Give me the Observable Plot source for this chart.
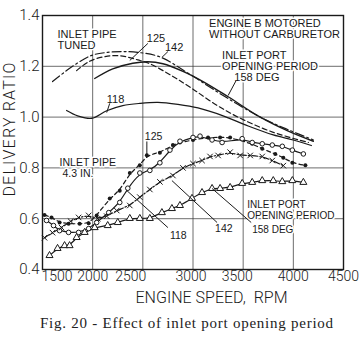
<!DOCTYPE html>
<html><head><meta charset="utf-8">
<script src="https://cdn.jsdelivr.net/npm/d3@7"></script>
<script src="https://cdn.jsdelivr.net/npm/@observablehq/plot@0.6"></script>
<style>
body{margin:0;background:#fff;}
#chart{position:relative;width:364px;height:340px;background:#fff;}
#cap{position:absolute;left:40px;top:315px;font-family:"Liberation Serif","DejaVu Serif",serif;font-size:15px;color:#222;white-space:nowrap;letter-spacing:0.75px;}
#ylab{position:absolute;left:10px;top:129px;transform:translate(-50%,-50%) rotate(-90deg);font-family:Roboto,"Liberation Sans",sans-serif;font-weight:300;font-size:16px;letter-spacing:1.2px;color:#1a1a1a;white-space:nowrap;line-height:1;}
</style></head><body>
<div id="chart"></div>
<script>
// ---- data ----
const xTicks = [1500, 2000, 2500, 3000, 3500, 4000, 4500];
const yTicks = [0.4, 0.6, 0.8, 1.0, 1.2, 1.4];
const xLabel = "ENGINE SPEED,  RPM";
const yLabel = "DELIVERY RATIO";
const caption = "Fig. 20 - Effect of inlet port opening period";

// Tuned inlet pipe (upper curves), [rpm, delivery ratio]
const tuned118 = [[1740,1.026],[1850,1.005],[1990,0.995],[2140,1.025],[2300,1.045],[2470,1.054],[2650,1.058],[2850,1.05],[3050,1.036],[3300,1.005],[3550,0.965],[3800,0.93],[4000,0.91],[4180,0.888]];
const tuned125 = [[1840,1.183],[1970,1.22],[2150,1.24],[2300,1.24],[2450,1.225],[2570,1.21],[2800,1.16],[3000,1.11],[3240,1.046],[3500,0.99],[3800,0.94],[4150,0.9]];
const tuned142 = [[1600,1.14],[1800,1.2],[1990,1.243],[2150,1.255],[2300,1.258],[2450,1.255],[2670,1.237],[2970,1.168],[3300,1.085],[3670,1.0],[3950,0.95],[4200,0.91]];
const tuned158 = [[2020,1.152],[2200,1.19],[2400,1.212],[2550,1.218],[2700,1.21],[2900,1.18],[3100,1.14],[3350,1.08],[3670,1.0],[3950,0.945],[4200,0.905]];

// Inlet pipe 4.3 in. (lower curves with markers)
const pipe125 = [[1520,0.615],[1590,0.605],[1670,0.585],[1760,0.58],[1870,0.58],[1960,0.582],[2040,0.613],[2170,0.68],[2270,0.71],[2370,0.78],[2470,0.81],[2540,0.85],[2670,0.86],[2800,0.89],[2870,0.9],[3000,0.91],[3150,0.92],[3270,0.92],[3370,0.92],[3590,0.895],[3690,0.875],[3820,0.855],[3900,0.84],[3990,0.82],[4120,0.81]];
const pipe118 = [[1540,0.593],[1610,0.573],[1670,0.553],[1760,0.546],[1860,0.546],[1960,0.561],[2040,0.585],[2160,0.624],[2270,0.664],[2350,0.72],[2470,0.78],[2570,0.79],[2670,0.82],[2770,0.87],[2870,0.905],[3000,0.92],[3070,0.925],[3190,0.91],[3290,0.9],[3490,0.915],[3590,0.9],[3690,0.895],[3790,0.89],[3890,0.885],[3990,0.87],[4100,0.855]];
const pipe142 = [[1520,0.525],[1600,0.545],[1690,0.565],[1780,0.59],[1860,0.605],[1960,0.613],[2050,0.6],[2140,0.61],[2240,0.632],[2370,0.652],[2470,0.685],[2570,0.715],[2670,0.745],[2800,0.77],[2900,0.8],[3000,0.817],[3090,0.829],[3170,0.845],[3250,0.849],[3370,0.862],[3470,0.849],[3570,0.849],[3690,0.845],[3790,0.829],[3900,0.809]];
const pipe158 = [[1570,0.455],[1650,0.483],[1720,0.494],[1770,0.494],[1840,0.526],[1920,0.546],[2020,0.565],[2150,0.573],[2250,0.585],[2370,0.601],[2470,0.601],[2570,0.601],[2690,0.624],[2790,0.64],[2870,0.652],[2990,0.68],[3090,0.703],[3190,0.719],[3270,0.719],[3370,0.723],[3490,0.739],[3590,0.743],[3690,0.75],[3800,0.75],[3890,0.746],[3990,0.75],[4100,0.743]];

// Annotation texts (left-anchored, vertically centred, data coordinates)
const notesUpper = [
  ["INLET PIPE\nTUNED", 1650, 1.305],
  ["125", 2540, 1.311], ["142", 2720, 1.274], ["118", 2140, 1.069],
  ["ENGINE B MOTORED\nWITHOUT CARBURETOR", 3160, 1.347],
  ["INLET PORT\nOPENING PERIOD\n\u00a0\u00a0\u00a0\u00a0158 DEG", 3290, 1.199]
];
const notesLower = [
  ["125", 2520, 0.924], ["INLET PIPE\n\u00a04.3 IN.", 1670, 0.799],
  ["118", 2770, 0.534], ["142", 3220, 0.561]
];
const notesLowerPort = [
  ["INLET PORT\nOPENING PERIOD", 3540, 0.634], ["158 DEG", 3590, 0.557]
];
// Leader lines [x1, y1, x2, y2]
const leaders = [
  [2550,1.29,2370,1.223], [2750,1.258,2690,1.235], [2170,1.054,2140,1.018], [3430,1.144,3350,1.085],
  [2540,0.904,2540,0.849], [2750,0.565,2340,0.711], [3240,0.585,2790,0.75], [3580,0.585,3190,0.719]
];

// ---- chart ----
const ink = "#1a1a1a";
const sans = "'Liberation Sans', Arial, sans-serif";
const thin = "Roboto, 'Liberation Sans', sans-serif";
const X = d => d[0], Y = d => d[1];
const lineOpts = (extra) => Object.assign({x: X, y: Y, stroke: ink, strokeWidth: 1.2}, extra);
const noteMark = (arr, size, lh, ls) => Plot.text(arr, {x: d => d[1], y: d => d[2], text: d => d[0], textAnchor: "start", lineAnchor: "middle", lineHeight: lh, fontSize: size, fontFamily: sans, letterSpacing: ls, fill: ink, stroke: "white", strokeWidth: 3, paintOrder: "stroke"});
const xAxisOpts = (extra) => Object.assign({tickSize: 0, tickPadding: 2, fontSize: 14, fontFamily: thin, fontWeight: 300, fill: ink, tickFormat: d => String(d), label: null}, extra);

const chart = Plot.plot({
  width: 364, height: 312,
  marginTop: 15, marginLeft: 42, marginRight: 21, marginBottom: 43,
  style: {background: "white", color: ink},
  x: {domain: [1500, 4500]},
  y: {domain: [0.4, 1.4]},
  marks: [
    Plot.gridX(xTicks.slice(1, -1), {stroke: "#333", strokeOpacity: 0.9, strokeWidth: 0.8}),
    Plot.gridY(yTicks.slice(1, -1), {stroke: "#333", strokeOpacity: 0.9, strokeWidth: 0.8}),
    noteMark(notesUpper, 11, 1.0, "-0.3px"),
    noteMark(notesLower, 10.5, 1.0, "-0.3px"),
    noteMark(notesLowerPort, 10, 1.05, "-0.6px"),
    Plot.line(tuned118, lineOpts({curve: "catmull-rom"})),
    Plot.line(tuned125, lineOpts({curve: "catmull-rom", strokeDasharray: "5,3"})),
    Plot.line(tuned142, lineOpts({curve: "catmull-rom", strokeDasharray: "9,3,2,3"})),
    Plot.line(tuned158, lineOpts({curve: "catmull-rom", strokeWidth: 1.4})),
    Plot.line(pipe125, lineOpts({curve: "basis", strokeDasharray: "4,3"})),
    Plot.line(pipe118, lineOpts({curve: "basis"})),
    Plot.line(pipe142, lineOpts({curve: "basis", strokeDasharray: "6,2,1.5,2"})),
    Plot.line(pipe158, lineOpts({curve: "basis"})),
    Plot.dot(pipe125, {x: X, y: Y, symbol: "circle", r: 2, fill: ink}),
    Plot.dot(pipe118, {x: X, y: Y, symbol: "circle", r: 2.3, fill: "white", stroke: ink, strokeWidth: 1}),
    Plot.dot(pipe142, {x: X, y: Y, symbol: "times", r: 2.6, stroke: ink, strokeWidth: 1}),
    Plot.dot(pipe158, {x: X, y: Y, symbol: "triangle", r: 2.6, fill: "white", stroke: ink, strokeWidth: 1}),
    Plot.link(leaders, {x1: d => d[0], y1: d => d[1], x2: d => d[2], y2: d => d[3], stroke: ink, strokeWidth: 1}),
    Plot.frame({stroke: ink, strokeWidth: 1.4}),
    Plot.axisX(xTicks.slice(0, 1), xAxisOpts({textAnchor: "start", dx: -1})),
    Plot.axisX([2000, 4000, 4500], xAxisOpts({})),
    Plot.axisX([3000], xAxisOpts({dx: -2})),
    Plot.axisX([2500], xAxisOpts({dx: -12})),
    Plot.axisX([3500], xAxisOpts({dx: -6})),
    Plot.axisY(yTicks, {tickSize: 0, tickPadding: 3, fontSize: 15, fontFamily: thin, fontWeight: 300, fill: ink, tickFormat: d => d.toFixed(1), label: null}),
    Plot.text([xLabel], {frameAnchor: "bottom-left", dx: 93, dy: 28, textAnchor: "start", lineAnchor: "middle", fontSize: 16, fontFamily: thin, fontWeight: 300, letterSpacing: "1.1px", fill: ink})
  ]
});
const host = document.getElementById("chart");
host.appendChild(chart);
const yl = document.createElement("div");
yl.id = "ylab";
yl.textContent = yLabel;
host.appendChild(yl);
const cap = document.createElement("div");
cap.id = "cap";
cap.textContent = caption;
host.appendChild(cap);
</script>
</body></html>
